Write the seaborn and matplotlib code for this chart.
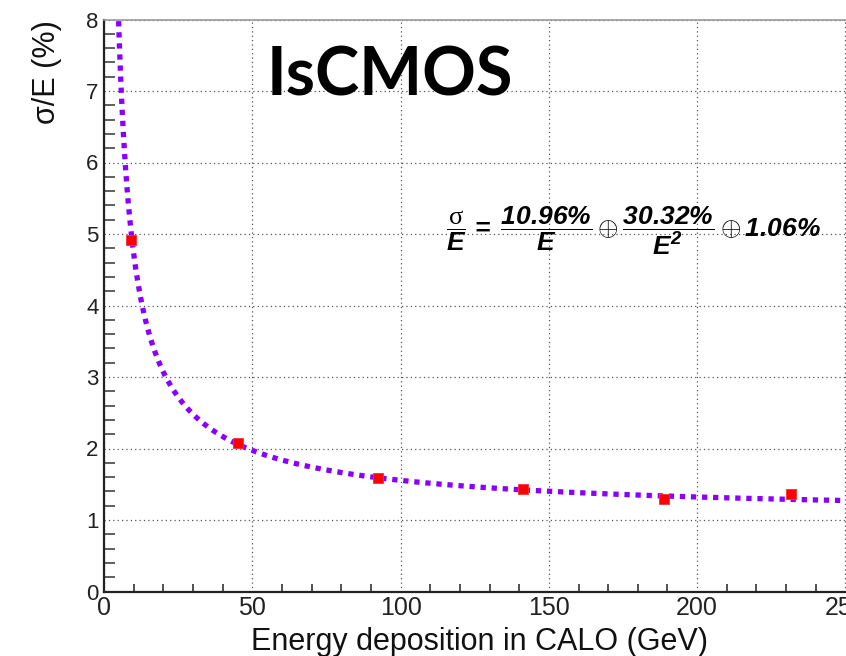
import numpy as np
import pandas as pd
import matplotlib
matplotlib.use("Agg")
import matplotlib.pyplot as plt
import seaborn as sns

# ---- data ----
energy_gev = [9.2, 45.2, 92.4, 141.2, 188.7, 231.8]
resolution_pct = [4.92, 2.08, 1.59, 1.43, 1.30, 1.36]

# fit parameters printed on the chart
stoch_term = 10.96
noise_term = 30.32
const_term = 1.06

x_ticks_major = [0, 50, 100, 150, 200, 250]
y_ticks_major = [0, 1, 2, 3, 4, 5, 6, 7, 8]

title_text = "IsCMOS"
x_label = "Energy deposition in CALO (GeV)"
y_label = "σ/E (%)"

sns.set_theme(style="white")
plt.rcParams["font.family"] = ["Liberation Sans", "DejaVu Sans"]
plt.rcParams["mathtext.fontset"] = "custom"
plt.rcParams["mathtext.bf"] = "Liberation Sans:bold:italic"
plt.rcParams["mathtext.rm"] = "Liberation Serif"
plt.rcParams["mathtext.it"] = "Liberation Sans:italic"

fig = plt.figure(figsize=(8.46, 6.56), dpi=100)
W, H = 846, 656
ax = fig.add_axes([104 / W, 1 - 591.5 / H, 1 - 104 / W, 572 / H])

# fit curve from the printed parameters
e_fit = np.linspace(4.0, 252, 600)
sig_fit = np.sqrt((stoch_term / np.sqrt(e_fit)) ** 2 + (noise_term / e_fit) ** 2 + const_term ** 2)
fit_df = pd.DataFrame({"E": e_fit, "res": sig_fit})
sns.lineplot(data=fit_df, x="E", y="res", ax=ax, color="#8a00ff", lw=3.8,
             linestyle=(0, (1, 1.1)), sort=False, zorder=3)
for l in ax.get_lines():
    l.set_dash_capstyle("butt")

pts = pd.DataFrame({"E": energy_gev, "res": resolution_pct})
sns.scatterplot(data=pts, x="E", y="res", ax=ax, marker="s", s=62,
                color="#ff0000", edgecolor="#ff3030", linewidth=0.6, zorder=4)

ax.set_xlim(0, 250.2)
ax.set_ylim(0, 8)
ax.set_xticks(x_ticks_major)
ax.set_yticks(y_ticks_major)
ax.set_xticks(np.arange(0, 251, 10), minor=True)
ax.set_yticks(np.arange(0, 8.01, 0.2), minor=True)
ax.set_xlabel("")
ax.set_ylabel("")

ax.grid(True, which="major", color="#555555", lw=0.9, linestyle=(0, (1, 2.5)))
ax.set_axisbelow(True)

ax.tick_params(axis="x", which="major", direction="in", length=12, width=1.4,
               color="#333333", labelsize=18, pad=3, labelcolor="#222222")
ax.tick_params(axis="x", which="minor", direction="in", length=6, width=1.2,
               color="#333333", bottom=True)
ax.tick_params(axis="y", which="major", direction="in", length=15.5, width=1.4,
               color="#444444", labelsize=16, pad=4, labelcolor="#222222")
ax.tick_params(axis="y", which="minor", direction="in", length=8, width=1.2,
               color="#444444", left=True)

for side in ["left", "bottom"]:
    ax.spines[side].set_color("#222222")
    ax.spines[side].set_linewidth(1.6)
ax.spines["top"].set_color("#999999")
ax.spines["top"].set_linewidth(1.2)
ax.spines["right"].set_visible(False)

fig.text(267 / W, 1 - 96 / H, title_text, fontsize=48, fontweight="bold",
         family=["Lato", "DejaVu Sans"], ha="left", va="baseline", color="black")

formula = (r"$\mathrm{\dfrac{\sigma}{\mathbf{E}}}\,\mathbf{=}\;"
           r"\dfrac{\mathbf{10.96\%}}{\mathbf{E}}\oplus"
           r"\dfrac{\mathbf{30.32\%}}{\mathbf{E^{2}}}\oplus\mathbf{1.06\%}$")
fig.text(446 / W, 1 - 231 / H, formula, fontsize=19, ha="left", va="center",
         color="black")

fig.text(479 / W, 6 / H, x_label, fontsize=22, ha="center", va="baseline",
         color="#111111")
fig.text(47 / W, 1 - 20 / H, y_label, fontsize=22, rotation=90, ha="center",
         va="top", color="#111111")

fig.savefig("out.png", dpi=100)
